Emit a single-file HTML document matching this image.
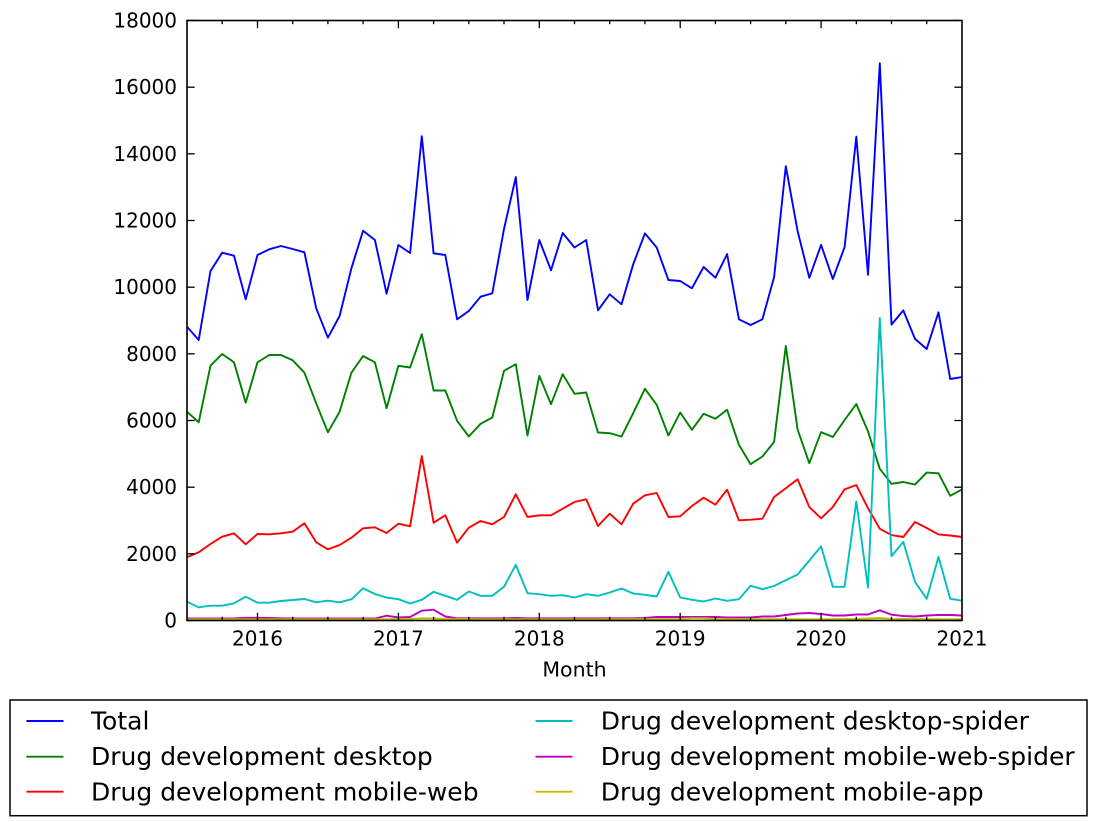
<!DOCTYPE html>
<html>
<head>
<meta charset="utf-8">
<style>
  html, body { margin:0; padding:0; background:#ffffff; }
  body { width:1096px; height:822px; overflow:hidden; }
  svg { display:block; }
  text { font-family: "DejaVu Sans", "Liberation Sans", sans-serif; fill:#000; }
</style>
</head>
<body>
<svg width="1096" height="822" viewBox="0 0 1096 822" xmlns="http://www.w3.org/2000/svg">
  <defs>
    <clipPath id="plot">
      <rect x="187" y="20.5" width="775" height="600"/>
    </clipPath>
  </defs>
  <rect x="0" y="0" width="1096" height="822" fill="#ffffff"/>

  <g clip-path="url(#plot)" fill="none" stroke-width="1.9" stroke-linejoin="round">
    <!-- Total -->
    <polyline stroke="#0000ff" points="187.0,326.7 198.7,340.0 210.5,271.0 222.2,252.7 234.0,255.7 245.7,299.3 257.5,255.0 269.2,249.3 280.9,246.0 292.7,249.0 304.4,252.3 316.2,308.3 327.9,337.7 339.6,316.0 351.4,268.3 363.1,230.7 374.9,240.0 386.6,293.7 398.4,245.0 410.1,253.0 421.8,136.2 433.6,253.3 445.3,255.0 457.1,319.3 468.8,311.0 480.6,296.7 492.3,293.3 504.0,229.0 515.8,177.1 527.5,300.0 539.3,240.0 551.0,270.3 562.7,233.0 574.5,247.5 586.2,240.0 598.0,310.3 609.7,294.3 621.5,304.3 633.2,264.3 644.9,233.4 656.7,247.5 668.4,280.0 680.2,281.0 691.9,288.3 703.6,267.0 715.4,277.7 727.1,254.1 738.9,319.3 750.6,325.0 762.4,319.3 774.1,277.1 785.8,166.2 797.6,231.0 809.3,277.8 821.1,244.9 832.8,279.0 844.6,247.1 856.3,136.6 868.0,274.8 879.8,63.2 891.5,324.6 903.3,310.4 915.0,338.9 926.7,349.0 938.5,312.3 950.2,379.0 962.0,377.1"/>
    <!-- Desktop -->
    <polyline stroke="#008000" points="187.0,411.7 198.7,422.3 210.5,365.7 222.2,354.0 234.0,362.3 245.7,402.7 257.5,362.3 269.2,355.0 280.9,355.0 292.7,360.3 304.4,372.7 316.2,403.3 327.9,432.3 339.6,411.7 351.4,372.7 363.1,356.0 374.9,362.3 386.6,408.2 398.4,365.8 410.1,367.5 421.8,334.2 433.6,390.5 445.3,390.5 457.1,420.8 468.8,436.5 480.6,423.8 492.3,417.5 504.0,370.8 515.8,364.2 527.5,435.5 539.3,375.8 551.0,404.2 562.7,374.2 574.5,393.8 586.2,392.5 598.0,432.5 609.7,433.2 621.5,436.5 633.2,413.2 644.9,388.8 656.7,404.8 668.4,435.5 680.2,412.5 691.9,429.8 703.6,413.8 715.4,418.8 727.1,409.8 738.9,444.8 750.6,464.2 762.4,456.5 774.1,441.9 785.8,346.0 797.6,429.5 809.3,463.2 821.1,432.1 832.8,437.0 844.6,420.1 856.3,404.0 868.0,431.4 879.8,468.8 891.5,483.8 903.3,482.0 915.0,484.6 926.7,472.6 938.5,473.3 950.2,495.8 962.0,489.4"/>
    <!-- Mobile-web -->
    <polyline stroke="#ff0000" points="187.0,557.3 198.7,552.3 210.5,544.0 222.2,536.7 234.0,533.3 245.7,544.3 257.5,534.0 269.2,534.3 280.9,533.3 292.7,531.7 304.4,523.3 316.2,542.3 327.9,549.3 339.6,545.0 351.4,537.7 363.1,528.3 374.9,527.3 386.6,533.0 398.4,523.7 410.1,526.3 421.8,456.0 433.6,522.7 445.3,515.3 457.1,542.7 468.8,527.7 480.6,521.0 492.3,524.3 504.0,517.0 515.8,494.3 527.5,517.0 539.3,515.3 551.0,515.3 562.7,508.7 574.5,502.0 586.2,499.3 598.0,526.0 609.7,513.7 621.5,524.3 633.2,503.7 644.9,495.3 656.7,493.0 668.4,517.0 680.2,516.3 691.9,506.0 703.6,497.7 715.4,504.7 727.1,489.7 738.9,520.3 750.6,519.7 762.4,518.7 774.1,497.0 785.8,488.3 797.6,479.3 809.3,507.0 821.1,518.3 832.8,507.0 844.6,489.4 856.3,485.0 868.0,508.2 879.8,528.8 891.5,535.1 903.3,537.0 915.0,522.0 926.7,528.0 938.5,534.4 950.2,535.5 962.0,537.0"/>
    <!-- Desktop-spider -->
    <polyline stroke="#00bfbf" points="187.0,601.7 198.7,607.3 210.5,605.7 222.2,605.7 234.0,603.3 245.7,596.7 257.5,602.7 269.2,602.7 280.9,601.0 292.7,600.0 304.4,599.0 316.2,602.3 327.9,600.7 339.6,602.3 351.4,599.3 363.1,588.3 374.9,594.0 386.6,597.5 398.4,599.2 410.1,603.5 421.8,599.8 433.6,591.8 445.3,595.8 457.1,599.8 468.8,591.5 480.6,595.8 492.3,595.8 504.0,586.8 515.8,564.8 527.5,593.2 539.3,594.2 551.0,595.8 562.7,595.2 574.5,597.5 586.2,594.2 598.0,595.8 609.7,592.5 621.5,588.5 633.2,593.5 644.9,594.8 656.7,596.5 668.4,571.8 680.2,597.5 691.9,599.8 703.6,601.5 715.4,598.5 727.1,600.8 738.9,599.2 750.6,585.8 762.4,589.2 774.1,586.0 785.8,580.1 797.6,574.5 809.3,560.6 821.1,546.4 832.8,586.8 844.6,586.8 856.3,501.4 868.0,587.6 879.8,317.9 891.5,556.1 903.3,541.9 915.0,581.9 926.7,598.8 938.5,556.9 950.2,598.8 962.0,600.7"/>
    <!-- Mobile-web-spider -->
    <polyline stroke="#bf00bf" points="187.0,618.5 198.7,618.5 210.5,618.5 222.2,618.5 234.0,618.3 245.7,617.8 257.5,617.8 269.2,618.0 280.9,618.3 292.7,618.5 304.4,618.5 316.2,618.5 327.9,618.5 339.6,618.5 351.4,618.5 363.1,618.5 374.9,618.5 386.6,615.7 398.4,617.5 410.1,617.0 421.8,610.7 433.6,609.7 445.3,616.5 457.1,618.3 468.8,618.3 480.6,618.3 492.3,618.3 504.0,618.3 515.8,618.0 527.5,618.3 539.3,618.3 551.0,618.3 562.7,618.3 574.5,618.3 586.2,618.3 598.0,618.3 609.7,618.3 621.5,618.3 633.2,618.3 644.9,618.0 656.7,617.0 668.4,617.0 680.2,617.0 691.9,617.0 703.6,617.0 715.4,617.0 727.1,617.5 738.9,617.5 750.6,617.5 762.4,616.5 774.1,616.5 785.8,615.0 797.6,613.5 809.3,613.0 821.1,614.0 832.8,615.5 844.6,615.5 856.3,614.5 868.0,614.5 879.8,610.3 891.5,614.7 903.3,616.0 915.0,616.5 926.7,615.5 938.5,615.0 950.2,615.0 962.0,615.5"/>
    <!-- Mobile-app -->
    <polyline stroke="#bfbf00" points="187.0,619.3 257.5,619.3 374.9,619.3 410.1,619.0 421.8,618.3 433.6,618.3 445.3,619.0 480.6,619.3 586.2,619.3 680.2,619.0 691.9,618.2 703.6,618.2 715.4,619.0 821.1,619.3 856.3,619.0 868.0,618.5 879.8,618.0 891.5,618.8 962.0,619.3"/>
  </g>

  <!-- axes frame -->
  <rect x="187" y="20.5" width="775" height="600" fill="none" stroke="#000" stroke-width="1.6"/>

  <!-- ticks -->
  <g stroke="#000" stroke-width="1.3">
    <!-- y ticks left -->
    <line x1="187" y1="620.5" x2="194.7" y2="620.5"/>
    <line x1="187" y1="553.8" x2="194.7" y2="553.8"/>
    <line x1="187" y1="487.2" x2="194.7" y2="487.2"/>
    <line x1="187" y1="420.5" x2="194.7" y2="420.5"/>
    <line x1="187" y1="353.8" x2="194.7" y2="353.8"/>
    <line x1="187" y1="287.2" x2="194.7" y2="287.2"/>
    <line x1="187" y1="220.5" x2="194.7" y2="220.5"/>
    <line x1="187" y1="153.8" x2="194.7" y2="153.8"/>
    <line x1="187" y1="87.2" x2="194.7" y2="87.2"/>
    <line x1="187" y1="20.5" x2="194.7" y2="20.5"/>
    <!-- y ticks right -->
    <line x1="962" y1="620.5" x2="954.3" y2="620.5"/>
    <line x1="962" y1="553.8" x2="954.3" y2="553.8"/>
    <line x1="962" y1="487.2" x2="954.3" y2="487.2"/>
    <line x1="962" y1="420.5" x2="954.3" y2="420.5"/>
    <line x1="962" y1="353.8" x2="954.3" y2="353.8"/>
    <line x1="962" y1="287.2" x2="954.3" y2="287.2"/>
    <line x1="962" y1="220.5" x2="954.3" y2="220.5"/>
    <line x1="962" y1="153.8" x2="954.3" y2="153.8"/>
    <line x1="962" y1="87.2" x2="954.3" y2="87.2"/>
    <line x1="962" y1="20.5" x2="954.3" y2="20.5"/>
    <!-- x major ticks bottom -->
    <line x1="257.5" y1="620.5" x2="257.5" y2="612.8"/>
    <line x1="398.4" y1="620.5" x2="398.4" y2="612.8"/>
    <line x1="539.3" y1="620.5" x2="539.3" y2="612.8"/>
    <line x1="680.2" y1="620.5" x2="680.2" y2="612.8"/>
    <line x1="821.1" y1="620.5" x2="821.1" y2="612.8"/>
    <!-- x major ticks top -->
    <line x1="257.5" y1="20.5" x2="257.5" y2="28.2"/>
    <line x1="398.4" y1="20.5" x2="398.4" y2="28.2"/>
    <line x1="539.3" y1="20.5" x2="539.3" y2="28.2"/>
    <line x1="680.2" y1="20.5" x2="680.2" y2="28.2"/>
    <line x1="821.1" y1="20.5" x2="821.1" y2="28.2"/>
    <!-- x minor ticks bottom -->
    <line x1="222.2" y1="620.5" x2="222.2" y2="616.8"/>
    <line x1="292.7" y1="620.5" x2="292.7" y2="616.8"/>
    <line x1="327.9" y1="620.5" x2="327.9" y2="616.8"/>
    <line x1="363.1" y1="620.5" x2="363.1" y2="616.8"/>
    <line x1="433.6" y1="620.5" x2="433.6" y2="616.8"/>
    <line x1="468.8" y1="620.5" x2="468.8" y2="616.8"/>
    <line x1="504.0" y1="620.5" x2="504.0" y2="616.8"/>
    <line x1="574.5" y1="620.5" x2="574.5" y2="616.8"/>
    <line x1="609.7" y1="620.5" x2="609.7" y2="616.8"/>
    <line x1="644.9" y1="620.5" x2="644.9" y2="616.8"/>
    <line x1="715.4" y1="620.5" x2="715.4" y2="616.8"/>
    <line x1="750.6" y1="620.5" x2="750.6" y2="616.8"/>
    <line x1="785.8" y1="620.5" x2="785.8" y2="616.8"/>
    <line x1="856.3" y1="620.5" x2="856.3" y2="616.8"/>
    <line x1="891.5" y1="620.5" x2="891.5" y2="616.8"/>
    <line x1="926.7" y1="620.5" x2="926.7" y2="616.8"/>
    <!-- x minor ticks top -->
    <line x1="222.2" y1="20.5" x2="222.2" y2="24.2"/>
    <line x1="292.7" y1="20.5" x2="292.7" y2="24.2"/>
    <line x1="327.9" y1="20.5" x2="327.9" y2="24.2"/>
    <line x1="363.1" y1="20.5" x2="363.1" y2="24.2"/>
    <line x1="433.6" y1="20.5" x2="433.6" y2="24.2"/>
    <line x1="468.8" y1="20.5" x2="468.8" y2="24.2"/>
    <line x1="504.0" y1="20.5" x2="504.0" y2="24.2"/>
    <line x1="574.5" y1="20.5" x2="574.5" y2="24.2"/>
    <line x1="609.7" y1="20.5" x2="609.7" y2="24.2"/>
    <line x1="644.9" y1="20.5" x2="644.9" y2="24.2"/>
    <line x1="715.4" y1="20.5" x2="715.4" y2="24.2"/>
    <line x1="750.6" y1="20.5" x2="750.6" y2="24.2"/>
    <line x1="785.8" y1="20.5" x2="785.8" y2="24.2"/>
    <line x1="856.3" y1="20.5" x2="856.3" y2="24.2"/>
    <line x1="891.5" y1="20.5" x2="891.5" y2="24.2"/>
    <line x1="926.7" y1="20.5" x2="926.7" y2="24.2"/>
  </g>

  <!-- y tick labels -->
  <g font-size="20" text-anchor="end">
    <text x="177" y="627.5">0</text>
    <text x="177" y="560.8">2000</text>
    <text x="177" y="494.2">4000</text>
    <text x="177" y="427.5">6000</text>
    <text x="177" y="360.8">8000</text>
    <text x="177" y="294.2">10000</text>
    <text x="177" y="227.5">12000</text>
    <text x="177" y="160.8">14000</text>
    <text x="177" y="94.2">16000</text>
    <text x="177" y="27.5">18000</text>
  </g>

  <!-- x tick labels -->
  <g font-size="20" text-anchor="middle">
    <text x="257.5" y="645.5">2016</text>
    <text x="398.4" y="645.5">2017</text>
    <text x="539.3" y="645.5">2018</text>
    <text x="680.2" y="645.5">2019</text>
    <text x="821.1" y="645.5">2020</text>
    <text x="962.0" y="645.5">2021</text>
  </g>

  <!-- x axis label -->
  <text x="574.5" y="676.5" font-size="20.5" text-anchor="middle">Month</text>

  <!-- legend -->
  <rect x="10" y="700" width="1077" height="115.7" fill="#ffffff" stroke="#000" stroke-width="1.5"/>
  <g stroke-width="1.9">
    <line x1="26.4" y1="721" x2="63.5" y2="721" stroke="#0000ff"/>
    <line x1="26.4" y1="756.7" x2="63.5" y2="756.7" stroke="#008000"/>
    <line x1="26.4" y1="791.7" x2="63.5" y2="791.7" stroke="#ff0000"/>
    <line x1="535.5" y1="721" x2="572.5" y2="721" stroke="#00bfbf"/>
    <line x1="535.5" y1="756.7" x2="572.5" y2="756.7" stroke="#bf00bf"/>
    <line x1="535.5" y1="791.7" x2="572.5" y2="791.7" stroke="#bfbf00"/>
  </g>
  <g font-size="25">
    <text x="91" y="729.3">Total</text>
    <text x="91" y="764.8">Drug development desktop</text>
    <text x="91" y="800.3">Drug development mobile-web</text>
    <text x="600.7" y="729.3">Drug development desktop-spider</text>
    <text x="600.7" y="764.8">Drug development mobile-web-spider</text>
    <text x="600.7" y="800.3">Drug development mobile-app</text>
  </g>
</svg>
</body>
</html>
